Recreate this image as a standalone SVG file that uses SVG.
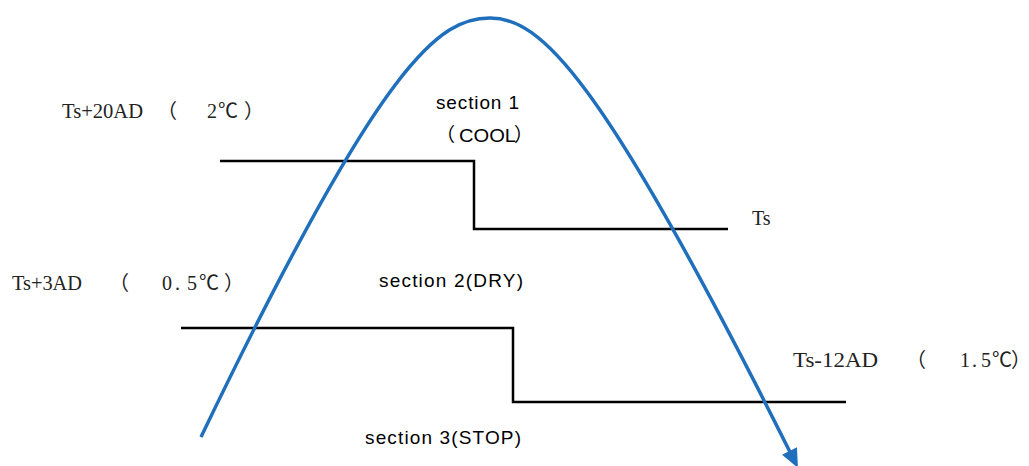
<svg xmlns="http://www.w3.org/2000/svg" width="1029" height="466" viewBox="0 0 1029 466">
<style>
.step{fill:none;stroke:#000;stroke-width:2.5;stroke-linejoin:miter}
.curve{fill:none;stroke:#1f6fbd;stroke-width:3.5;stroke-linecap:butt}
.ser{font-family:"Liberation Serif","Noto Sans CJK SC",serif;font-size:20px;fill:#222}
.cjk{font-family:"Noto Sans CJK SC","Liberation Serif",sans-serif;font-size:20px;fill:#222}
.sans{font-family:"Liberation Sans","Noto Sans CJK SC",sans-serif;font-size:19px;fill:#000}
.sanscjk{font-family:"Noto Sans CJK SC","Liberation Sans",sans-serif;font-size:19px;fill:#000}
</style>
<defs>
<marker id="arr" markerUnits="userSpaceOnUse" markerWidth="20" markerHeight="20" viewBox="0 -8 18 16" refX="1" refY="0" orient="auto">
<path d="M0,-7.5 L17,0 L0,7.5 Z" fill="#1f6fbd"/>
</marker>
</defs>
<rect width="1029" height="466" fill="#fff"/>
<g id="thresholds">
<path class="step" d="M220,161 H474 V229 H728"/>
<path class="step" d="M181,328 H513 V402 H846"/>
</g>
<g id="connectors">
<path class="curve" marker-end="url(#arr)" d="M201,437 C383.4,57 440,18 490,18 C540,18 600,72 790,452"/>
</g>
<g id="label-ts20">
<text class="ser" x="62" y="118" textLength="81" lengthAdjust="spacingAndGlyphs">Ts+20AD</text>
<text class="cjk" x="157" y="118">（</text>
<text class="ser" x="207" y="118">2</text>
<text class="cjk" x="218" y="118">℃</text>
<text class="cjk" x="244" y="118">）</text>
</g>
<g id="label-ts3">
<text class="ser" x="12" y="290" textLength="70" lengthAdjust="spacingAndGlyphs">Ts+3AD</text>
<text class="cjk" x="109" y="290">（</text>
<text class="ser" x="162 175 187" y="290">0.5</text>
<text class="cjk" x="199" y="290">℃</text>
<text class="cjk" x="224" y="290">）</text>
</g>
<g id="label-ts12">
<text class="ser" x="793" y="367" textLength="85" lengthAdjust="spacingAndGlyphs">Ts-12AD</text>
<text class="cjk" x="906" y="367">（</text>
<text class="ser" x="960 972 981" y="367">1.5</text>
<text class="cjk" x="992" y="367">℃</text>
<text class="cjk" x="1011" y="367">）</text>
</g>
<g id="label-ts">
<text class="ser" x="752" y="225">Ts</text>
</g>
<g id="section1">
<text class="sans" x="436" y="109" textLength="83" lengthAdjust="spacing">section 1</text>
<text class="sanscjk" x="436" y="142">（</text>
<text class="sans" x="459" y="142" textLength="57" lengthAdjust="spacingAndGlyphs">COOL</text>
<text class="sanscjk" x="514" y="142">）</text>
</g>
<g id="section2">
<text class="sans" x="379" y="287" textLength="144" lengthAdjust="spacing">section 2(DRY)</text>
</g>
<g id="section3">
<text class="sans" x="365" y="444" textLength="156" lengthAdjust="spacing">section 3(STOP)</text>
</g>
</svg>
